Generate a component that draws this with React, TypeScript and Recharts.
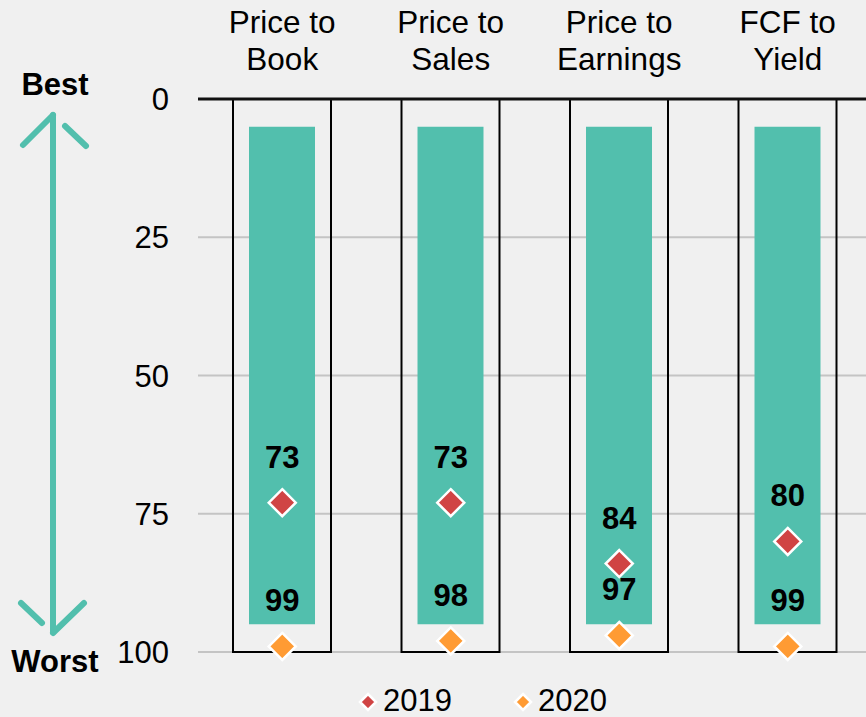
import React from 'react';
import { ComposedChart, Bar, Line, XAxis, YAxis, CartesianGrid, LabelList } from 'recharts';

// categories, two lines each
const categoryTop = ['Price to', 'Price to', 'Price to', 'FCF to'];
const categoryBottom = ['Book', 'Sales', 'Earnings', 'Yield'];
const categories = ['Price to Book', 'Price to Sales', 'Price to Earnings', 'FCF to Yield'];

const values2019 = [73, 73, 84, 80];
const values2020 = [99, 98, 97, 99];

// percentile ranges
const boxRange = [0, 100];
const barRange = [5, 95];
const yTicks = [0, 25, 50, 75, 100];

const TEAL = '#52BFAD';
const RED = '#D04444';
const ORANGE = '#FF9B33';
const FONT = '"Liberation Sans", Arial, sans-serif';
const FS = 31;

const data = categories.map((name, i) => ({
  name,
  box: boxRange,
  bar: barRange,
  y2019: values2019[i],
  y2020: values2020[i],
}));

const Diamond = ({ cx, cy, color, r = 13.5 }: { cx: number; cy: number; color: string; r?: number }) => (
  <polygon
    points={`${cx},${cy - r} ${cx + r},${cy} ${cx},${cy + r} ${cx - r},${cy}`}
    fill={color}
    stroke="#FFFFFF"
    strokeWidth={2.5}
  />
);

const CategoryTick = (props: any) => {
  const { x, index } = props;
  return (
    <text x={x} textAnchor="middle" fontSize={FS + 0.5} fill="#000" fontFamily={FONT}>
      <tspan x={x} y={33}>{categoryTop[index]}</tspan>
      <tspan x={x} y={70}>{categoryBottom[index]}</tspan>
    </text>
  );
};

const ValueLabel = (props: any) => {
  const { x, y, value } = props;
  return (
    <text x={x} y={y - 35} textAnchor="middle" fontSize={FS} fontWeight="bold" fill="#000" fontFamily={FONT}>
      {value}
    </text>
  );
};

export default function App() {
  return (
    <div
      style={{
        position: 'absolute',
        left: 0,
        top: 0,
        width: 866,
        height: 717,
        overflow: 'hidden',
        background: '#F0F0F0',
        fontFamily: FONT,
      }}
    >
      <ComposedChart width={900} height={717} data={data} margin={{ top: 0, right: 28, bottom: 65, left: 0 }}>
        <CartesianGrid horizontal vertical={false} stroke="#C4C4C4" strokeWidth={2} />
        <XAxis
          xAxisId="main"
          dataKey="name"
          orientation="top"
          height={99}
          axisLine={{ stroke: '#111', strokeWidth: 3 }}
          tickLine={false}
          tick={<CategoryTick />}
          interval={0}
        />
        <XAxis xAxisId="inner" dataKey="name" hide />
        <YAxis
          type="number"
          domain={[0, 100]}
          ticks={yTicks}
          reversed
          width={198}
          axisLine={false}
          tickLine={false}
          tickMargin={23}
          tick={{ fill: '#000', fontSize: FS, fontFamily: FONT }}
        />
        <Bar
          xAxisId="main"
          dataKey="box"
          barSize={98}
          fill="none"
          stroke="#000"
          strokeWidth={2}
          isAnimationActive={false}
        />
        <Bar xAxisId="inner" dataKey="bar" barSize={66} fill={TEAL} isAnimationActive={false} />
        <Line
          xAxisId="main"
          dataKey="y2019"
          stroke="none"
          isAnimationActive={false}
          dot={(p: any) => <Diamond key={`a${p.index}`} cx={p.cx} cy={p.cy} color={RED} />}
          activeDot={false}
        >
          <LabelList dataKey="y2019" content={<ValueLabel />} />
        </Line>
        <Line
          xAxisId="main"
          dataKey="y2020"
          stroke="none"
          isAnimationActive={false}
          dot={(p: any) => <Diamond key={`b${p.index}`} cx={p.cx} cy={p.cy} color={ORANGE} />}
          activeDot={false}
        >
          <LabelList dataKey="y2020" content={<ValueLabel />} />
        </Line>
      </ComposedChart>

      <svg width={866} height={717} style={{ position: 'absolute', left: 0, top: 0, pointerEvents: 'none' }}>
        <text x={55} y={95} textAnchor="middle" fontSize={FS} fontWeight="bold" fill="#000" fontFamily={FONT}>
          Best
        </text>
        <text x={55} y={672} textAnchor="middle" fontSize={FS} fontWeight="bold" fill="#000" fontFamily={FONT}>
          Worst
        </text>
        <g stroke={TEAL} strokeWidth={6} strokeLinecap="round" fill="none">
          <line x1={53} y1={115} x2={53} y2={632} />
          <line x1={53} y1={115} x2={23} y2={145} />
          <line x1={65} y1={126} x2={86} y2={146} />
          <line x1={21} y1={603} x2={42} y2={623} />
          <line x1={53} y1={633} x2={84} y2={603} />
        </g>
        <Diamond cx={368} cy={702} r={8} color={RED} />
        <text x={383} y={711} fontSize={FS} fill="#000" fontFamily={FONT}>
          2019
        </text>
        <Diamond cx={523} cy={702} r={8} color={ORANGE} />
        <text x={538} y={711} fontSize={FS} fill="#000" fontFamily={FONT}>
          2020
        </text>
      </svg>
    </div>
  );
}
